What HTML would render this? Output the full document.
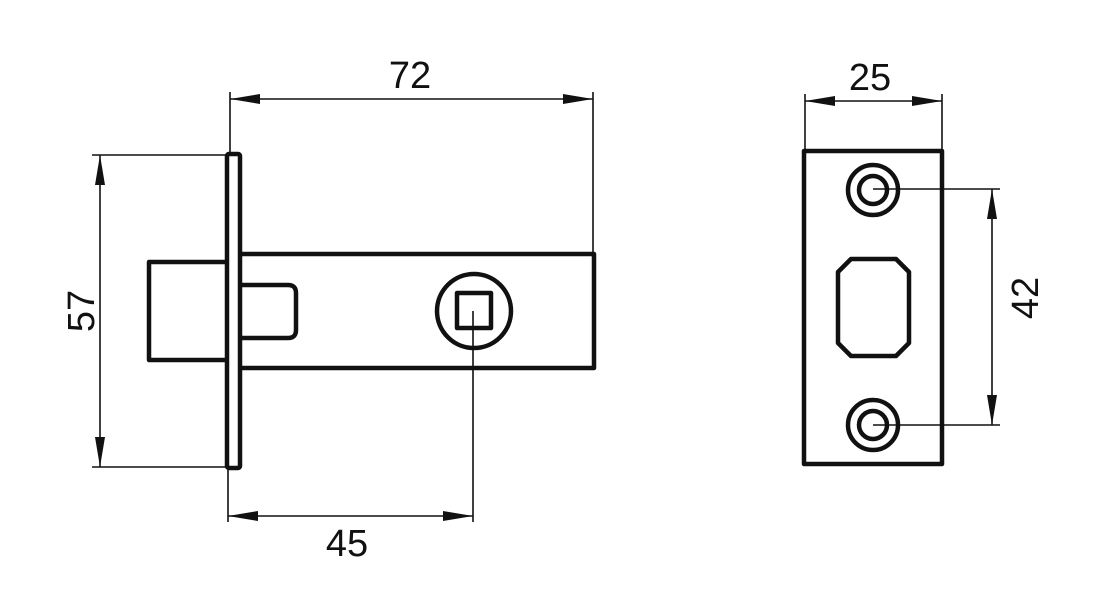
<!DOCTYPE html>
<html><head><meta charset="utf-8"><style>html,body{margin:0;padding:0;background:#fff}svg{display:block}</style></head>
<body>
<svg width="1100" height="616" viewBox="0 0 1100 616" xmlns="http://www.w3.org/2000/svg">
<defs>
<marker id="a" viewBox="0 0 30 10" refX="30" refY="5" markerWidth="30" markerHeight="10" markerUnits="userSpaceOnUse" orient="auto-start-reverse"><path d="M0,0 L30,5 L0,10 Z" fill="#111"/></marker>
</defs>
<g stroke="#111" fill="none" stroke-width="4.5" stroke-linejoin="round">
<!-- plate -->
<rect x="227" y="154" width="13" height="314" rx="2"/>
<!-- latch -->
<polyline points="225,262 149,262 149,360 225,360"/>
<!-- body -->
<polyline points="240,254 594,254 594,368 240,368"/>
<path d="M240,285 H288 Q296,285 296,293 V330 Q296,338 288,338 H240"/>
<circle cx="474" cy="311" r="37"/>
<rect x="457" y="293" width="34" height="35"/>
<!-- strike -->
<rect x="804" y="151" width="138" height="313"/>
<circle cx="873" cy="190" r="25"/>
<circle cx="873" cy="190" r="14"/>
<circle cx="873" cy="425" r="25"/>
<circle cx="873" cy="425" r="14"/>
<path d="M851,259 H896 L909,272 V343 L896,356 H851 L838,343 V272 Z"/>
</g>
<g stroke="#111" stroke-width="1.6" fill="none">
<!-- 72 -->
<line x1="230" y1="92" x2="230" y2="154"/>
<line x1="593" y1="92" x2="593" y2="254"/>
<line x1="230" y1="99" x2="593" y2="99" marker-start="url(#a)" marker-end="url(#a)"/>
<!-- 57 -->
<line x1="92" y1="155" x2="226" y2="155"/>
<line x1="92" y1="467" x2="226" y2="467"/>
<line x1="100" y1="155" x2="100" y2="467" marker-start="url(#a)" marker-end="url(#a)"/>
<!-- 45 -->
<line x1="228" y1="468" x2="228" y2="522"/>
<line x1="473" y1="311" x2="473" y2="522"/>
<line x1="228" y1="516" x2="473" y2="516" marker-start="url(#a)" marker-end="url(#a)"/>
<!-- 25 -->
<line x1="805" y1="94" x2="805" y2="151"/>
<line x1="942" y1="94" x2="942" y2="151"/>
<line x1="805" y1="101" x2="942" y2="101" marker-start="url(#a)" marker-end="url(#a)"/>
<!-- 42 -->
<line x1="873" y1="189" x2="1000" y2="189"/>
<line x1="873" y1="425" x2="1000" y2="425"/>
<line x1="992" y1="189" x2="992" y2="425" marker-start="url(#a)" marker-end="url(#a)"/>
</g>
<g font-family="Liberation Sans, sans-serif" font-size="38" fill="#111" text-anchor="middle">
<text x="410" y="88">72</text>
<text x="870" y="90">25</text>
<text x="347" y="556">45</text>
<text transform="translate(94,311) rotate(-90)">57</text>
<text transform="translate(1038,298) rotate(-90)">42</text>
</g>
</svg>
</body></html>
